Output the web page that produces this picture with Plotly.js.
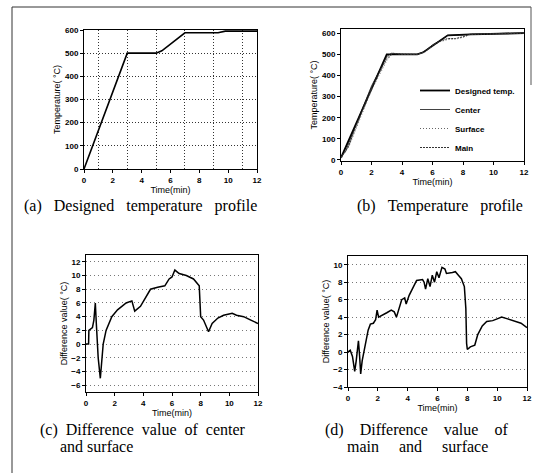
<!DOCTYPE html>
<html><head><meta charset="utf-8">
<script src="https://cdn.plot.ly/plotly-3.0.1.min.js"></script>
<style>html,body{margin:0;padding:0;background:#fff}#chart{width:539px;height:473px}</style>
</head><body><div id="chart"></div>
<script>
// (a) designed temperature profile
const aTime = [0, 3, 5, 5.4, 7, 9.3, 9.8, 12];
const aTemp = [0, 500, 500, 510, 588, 588, 595, 595];

// (b) temperature profile
const bDesTime = [0, 3, 5, 5.4, 7, 8.5, 12];
const bDesTemp = [10, 500, 500, 510, 590, 595, 600];
const bCenTime = [0, 0.3, 1, 2, 3, 3.3, 4, 5, 5.5, 6, 6.5, 7, 8, 8.5, 10, 12];
const bCenTemp = [15, 40, 170, 350, 490, 505, 500, 500, 515, 545, 565, 590, 592, 595, 598, 602];
const bSurTime = [0, 0.5, 1, 2, 3, 3.4, 4, 5, 5.5, 6, 6.5, 7, 7.5, 8, 8.5, 10, 12];
const bSurTemp = [10, 60, 150, 330, 470, 505, 500, 500, 510, 540, 560, 570, 572, 580, 595, 597, 600];
const bMainTime = [0, 0.5, 1, 2, 3, 3.4, 4, 5, 5.5, 6, 6.5, 7, 7.5, 8, 8.5, 10, 12];
const bMainTemp = [12, 65, 160, 340, 480, 505, 502, 500, 512, 542, 562, 575, 575, 583, 596, 598, 601];

// (c) difference center - surface
const cTime = [0, 0.18, 0.2, 0.3, 0.45, 0.55, 0.65, 0.72, 0.85, 1.0, 1.08, 1.2, 1.4, 1.8, 2.2, 2.8, 3.2, 3.4, 3.8, 4.1, 4.5, 5.0, 5.5, 5.8, 6.0, 6.2, 6.5, 7.0, 7.5, 7.9, 8.0, 8.2, 8.4, 8.55, 8.8, 9.2, 9.6, 10.0, 10.2, 10.5, 11.0, 11.5, 11.8, 12];
const cDiff = [0, 0, 2, 2.2, 2.4, 3.5, 6, 3, -2, -5, -3, 0, 2, 4, 5, 6, 6.3, 4.8, 5.5, 6.5, 8, 8.3, 8.5, 9.5, 9.8, 10.8, 10.3, 10, 9.5, 8.5, 4, 3.5, 2.5, 1.8, 3, 3.8, 4.2, 4.4, 4.5, 4.2, 4, 3.5, 3.2, 3];

// (d) difference main - surface
const dTime = [0, 0.15, 0.3, 0.45, 0.55, 0.7, 0.78, 0.85, 0.95, 1.05, 1.2, 1.35, 1.5, 1.7, 1.85, 1.95, 2.05, 2.3, 2.6, 2.9, 3.1, 3.25, 3.4, 3.6, 3.8, 3.9, 4.1, 4.3, 4.6, 5.0, 5.1, 5.2, 5.35, 5.5, 5.65, 5.8, 5.95, 6.1, 6.3, 6.5, 6.6, 7.0, 7.2, 7.4, 7.6, 7.8, 7.9, 7.95, 8.0, 8.2, 8.5, 8.7, 9.0, 9.3, 9.7, 10.0, 10.3, 10.7, 11.2, 11.6, 12];
const dDiff = [0, 0.2, -0.5, -2.2, -1, 1.3, -0.5, -2.5, -1, 0, 1, 2.5, 3.2, 3.3, 3.7, 4.8, 4, 4.2, 4.5, 4.8, 4.6, 4, 5, 6, 6.2, 5.5, 6.5, 7.2, 8.2, 8.3, 8, 7.2, 8.4, 7.5, 8.8, 8, 9.2, 8.5, 9.7, 9.5, 9, 9.1, 9.2, 8.8, 8.4, 7.5, 5, 1, 0.3, 0.6, 0.8, 2, 3, 3.5, 3.6, 3.8, 4, 3.8, 3.5, 3.3, 2.8];

const xTicks = [0, 2, 4, 6, 8, 10, 12];
const sp = n => "\u00a0".repeat(n);
const join = (words, n) => words.join(sp(n));
const captions = [
  join(["(a)", "Designed", "temperature", "profile"], 3),
  join(["(b)", "Temperature", "profile"], 3),
  join(["(c)", "Difference", "value", "of", "center"], 2),
  join(["and", "surface"], 1),
  join(["(d)", "Difference", "value", "of"], 4),
  join(["main", "and", "surface"], 5)
];

const SANS = "Liberation Sans, Arial, sans-serif";
const SERIF = "Liberation Serif, Times New Roman, serif";
const tf = {family: SANS, size: 8, color: "#000", weight: "bold"};
const ttf = {family: SANS, size: 9, color: "#000"};

function xax(domain, anchor, grid) {
  const o = {domain: domain, anchor: anchor, range: [0, 12], tickvals: xTicks, showline: true, mirror: true,
    linecolor: "#000", linewidth: 1, ticks: "outside", ticklen: 3, tickcolor: "#000", tickfont: tf,
    showgrid: false, zeroline: false, title: {text: "Time(min)", font: ttf, standoff: 0}};
  if (grid) o.minor = {tick0: 1, dtick: 2, showgrid: true, gridcolor: "#333", griddash: "1px,2px", gridwidth: 1, ticks: ""};
  return o;
}
function yax(domain, anchor, range, dtick, title, gridOpts) {
  const o = {domain: domain, anchor: anchor, range: range, dtick: dtick, tick0: 0, showline: true, mirror: true,
    linecolor: "#000", linewidth: 1, ticks: "outside", ticklen: 3, tickcolor: "#000", tickfont: tf,
    zeroline: false, showgrid: false, title: {text: title, font: ttf, standoff: 2}};
  if (gridOpts) Object.assign(o, gridOpts);
  return o;
}

const traces = [
  {x: aTime, y: aTemp, xaxis: "x", yaxis: "y", mode: "lines", line: {color: "#000", width: 1.6}, showlegend: false},
  {x: bDesTime, y: bDesTemp, xaxis: "x2", yaxis: "y2", mode: "lines", name: "Designed temp.", line: {color: "#000", width: 1.8}},
  {x: bCenTime, y: bCenTemp, xaxis: "x2", yaxis: "y2", mode: "lines", name: "Center", line: {color: "#111", width: 0.8}},
  {x: bSurTime, y: bSurTemp, xaxis: "x2", yaxis: "y2", mode: "lines", name: "Surface", line: {color: "#666", width: 1, dash: "1px,2px"}},
  {x: bMainTime, y: bMainTemp, xaxis: "x2", yaxis: "y2", mode: "lines", name: "Main", line: {color: "#333", width: 1, dash: "2px,1px"}},
  {x: cTime, y: cDiff, xaxis: "x3", yaxis: "y3", mode: "lines", line: {color: "#000", width: 1.5}, showlegend: false},
  {x: dTime, y: dDiff, xaxis: "x4", yaxis: "y4", mode: "lines", line: {color: "#000", width: 1.5}, showlegend: false}
];

const W = 539, H = 473;
const dx = (a, b) => [a / W, b / W];
const dy = (top, bot) => [1 - bot / H, 1 - top / H];
const gridC = {showgrid: true, gridcolor: "#777", griddash: "1px,3px", gridwidth: 1};

function cap(text, xpx, ypx) {
  return {text: text, x: xpx / W, y: 1 - ypx / H, xref: "paper", yref: "paper", xanchor: "left", yanchor: "middle",
    showarrow: false, font: {family: SERIF, size: 16, color: "#000"}};
}

const layout = {
  width: W, height: H, margin: {l: 0, r: 0, t: 0, b: 0}, paper_bgcolor: "#fff", plot_bgcolor: "#fff",
  font: {family: SANS, color: "#000"},
  xaxis: xax(dx(84, 257), "y", true),
  yaxis: yax(dy(30, 169), "x", [0, 600], 100, "Temperature( °C)",
    {showgrid: true, gridcolor: "#333", griddash: "1px,2px", gridwidth: 1}),
  xaxis2: xax(dx(341, 524), "y2", false),
  yaxis2: yax(dy(29, 161), "x2", [-5, 620], 100, "Temperature( °C)"),
  xaxis3: xax(dx(86, 258), "y3", false),
  yaxis3: yax(dy(255, 392), "x3", [-7, 13], 2, "Difference value( °C)", gridC),
  xaxis4: xax(dx(348, 527), "y4", false),
  yaxis4: yax(dy(256, 387), "x4", [-4, 11], 2, "Difference value( °C)", gridC),
  showlegend: true,
  legend: {x: 415 / W, y: 1 - 76 / H, xanchor: "left", yanchor: "top", bgcolor: "rgba(0,0,0,0)",
    font: {family: SANS, size: 8, color: "#000", weight: "bold"}, itemwidth: 30, tracegroupgap: 0},
  annotations: [
    cap(captions[0], 22, 206),
    cap(captions[1], 355, 206),
    cap(captions[2], 38, 430),
    cap(captions[3], 58, 446),
    cap(captions[4], 323, 430),
    cap(captions[5], 345, 446)
  ],
  shapes: [
    {type: "line", xref: "paper", yref: "paper", x0: 12 / W, x1: 531 / W, y0: 1 - 7 / H, y1: 1 - 7 / H, line: {color: "#333", width: 1}},
    {type: "line", xref: "paper", yref: "paper", x0: 12 / W, x1: 12 / W, y0: 0, y1: 1 - 7 / H, line: {color: "#333", width: 1}},
    {type: "line", xref: "paper", yref: "paper", x0: 531 / W, x1: 531 / W, y0: 1 - 85 / H, y1: 1 - 7 / H, line: {color: "#555", width: 1}}
  ]
};

Plotly.newPlot("chart", traces, layout, {displayModeBar: false, staticPlot: true});
</script></body></html>
